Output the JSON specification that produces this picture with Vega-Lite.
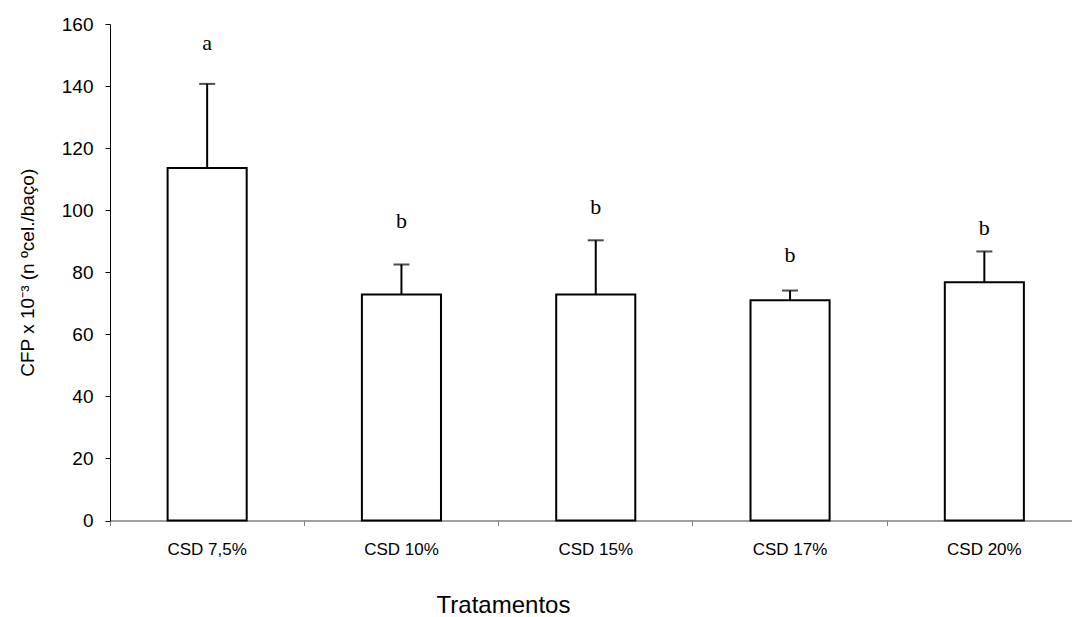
{
  "$schema": "https://vega.github.io/schema/vega-lite/v6.json",
  "autosize": {"type": "none"},
  "padding": {"left": 110, "top": 24, "right": 0, "bottom": 96.5},
  "width": 962,
  "height": 496.5,
  "background": "white",
  "config": {"view": {"stroke": null}},
  "data": {
    "values": [
      {"trat": "CSD 7,5%", "mean": 113.6, "upper": 140.7, "sig": "a", "sig_y": 151.7},
      {"trat": "CSD 10%", "mean": 72.8, "upper": 82.5, "sig": "b", "sig_y": 94.3},
      {"trat": "CSD 15%", "mean": 72.8, "upper": 90.3, "sig": "b", "sig_y": 98.8},
      {"trat": "CSD 17%", "mean": 71.0, "upper": 74.1, "sig": "b", "sig_y": 83.2},
      {"trat": "CSD 20%", "mean": 76.8, "upper": 86.7, "sig": "b", "sig_y": 92.1}
    ]
  },
  "encoding": {
    "x": {
      "field": "trat",
      "type": "nominal",
      "sort": null,
      "scale": {"range": [0, 971.5], "paddingInner": 0, "paddingOuter": 0},
      "axis": {
        "title": "Tratamentos",
        "titleFont": "Liberation Sans",
        "titleFontSize": 24,
        "titleFontWeight": "normal",
        "titleColor": "black",
        "titleX": 393,
        "titleAlign": "center",
        "titlePadding": 36,
        "labelFont": "Liberation Sans",
        "labelFontSize": 17,
        "labelColor": "black",
        "labelAngle": 0,
        "labelPadding": 16,
        "bandPosition": 0,
        "tickSize": 5,
        "tickColor": "#808080",
        "domainColor": "#808080",
        "domainWidth": 1.5,
        "grid": false
      }
    }
  },
  "layer": [
    {
      "mark": {"type": "bar", "fill": "white", "stroke": "black", "strokeWidth": 2, "width": {"band": 0.407}},
      "encoding": {
        "y": {
          "field": "mean",
          "type": "quantitative",
          "scale": {"domain": [0, 160], "nice": false},
          "axis": {
            "title": "CFP x 10⁻³ (n ºcel./baço)",
            "titleFont": "Liberation Sans",
            "titleFontSize": 19,
            "titleFontWeight": "normal",
            "titleColor": "black",
            "titlePadding": 24,
            "values": [0, 20, 40, 60, 80, 100, 120, 140, 160],
            "labelFont": "Liberation Sans",
            "labelFontSize": 19,
            "labelColor": "black",
            "labelPadding": 12,
            "tickSize": 5,
            "tickColor": "black",
            "domainColor": "black",
            "grid": false
          }
        }
      }
    },
    {
      "mark": {"type": "rule", "color": "black", "strokeWidth": 2},
      "encoding": {
        "y": {"field": "mean", "type": "quantitative"},
        "y2": {"field": "upper"}
      }
    },
    {
      "mark": {"type": "tick", "color": "black", "size": 16, "thickness": 2, "orient": "horizontal"},
      "encoding": {
        "y": {"field": "upper", "type": "quantitative"}
      }
    },
    {
      "mark": {"type": "text", "font": "Liberation Serif", "fontSize": 22, "baseline": "alphabetic", "align": "center", "color": "black"},
      "encoding": {
        "y": {"field": "sig_y", "type": "quantitative"},
        "text": {"field": "sig"}
      }
    }
  ]
}
